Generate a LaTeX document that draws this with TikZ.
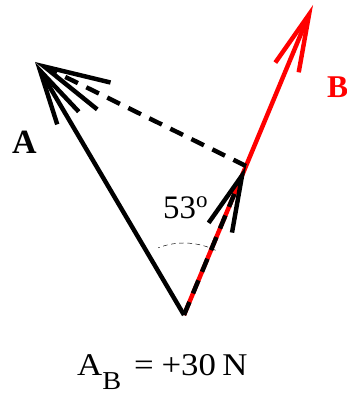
\documentclass[tikz,border=0pt]{standalone}
\usepackage{fontspec}
\setmainfont{Liberation Serif}
\usepackage{tikz}
\usetikzlibrary{arrows.meta, positioning, calc}
\definecolor{myred}{RGB}{255,0,0}
\definecolor{mydark}{RGB}{0,0,0}
\tikzset{
  vec/.style={line width=3.8pt, color=mydark,
    -{Straight Barb[length=1.65cm, width=0.75cm, line cap=butt]}},
  redvec/.style={line width=3.8pt, color=myred,
    -{Straight Barb[length=1.72cm, width=0.76cm, line cap=butt]}},
  projvec/.style={line width=3.8pt, color=mydark, dash pattern=on 12pt off 8pt,
    -{Straight Barb[length=1.7cm, width=0.76cm, line cap=butt]}},
  dashvec/.style={line width=3.8pt, color=mydark, dash pattern=on 12pt off 8pt,
    -{Straight Barb[length=2.0cm, width=0.9cm, line cap=butt]}},
  anglearc/.style={thin, color=mydark, dash pattern=on 4pt off 3pt},
  veclabel/.style={inner sep=0pt, font=\fontsize{29}{29}\selectfont\bfseries},
  txt/.style={inner sep=0pt, font=\fontsize{27}{27}\selectfont}
}
\newcommand{\subB}{\raisebox{-12.5pt}{\fontsize{22}{22}\selectfont B}}

\begin{document}
\begin{tikzpicture}[x=0.03cm, y=-0.03cm]
  \useasboundingbox (0,0) rectangle (347,396);

  % Points
  \coordinate (O) at (184,315);
  \coordinate (Atip) at (35,62);
  \coordinate (Btip) at (313,5);
  \coordinate (P) at (246,166);

  % Vector B
  \draw[redvec] (O) -- (Btip);

  % Vector A
  \draw[vec] (O) -- (Atip);

  % Projection of A on B
  \draw[projvec] (O) -- (P);
  \draw[dashvec] (P) -- (Atip);

  % Angle
  \draw[anglearc] ($(O)+(64:2.16cm)$) arc[start angle=64, end angle=111, radius=2.16cm];

  % Labels
  \node[veclabel, anchor=base west] (labA) at (12,153) {A};
  \node[veclabel, anchor=base west, text=myred, font=\fontsize{27}{27}\selectfont\bfseries] (labB) at (327,97) {B};
  \node[txt, anchor=base west, font=\fontsize{28}{28}\selectfont] (ang) at (163,218) {53\textsuperscript{o}};
  \node[txt, anchor=base west] (res) at (77,375)
    {\scalebox{1.1}[1]{A\subB\hspace{10pt}=\hspace{6pt}+30\hspace{5pt}N}};
\end{tikzpicture}
\end{document}
